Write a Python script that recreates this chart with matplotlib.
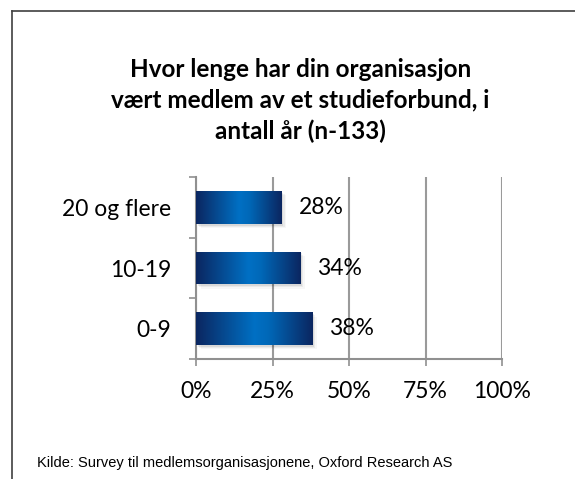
import numpy as np
import matplotlib.pyplot as plt
from matplotlib.colors import LinearSegmentedColormap
from matplotlib.lines import Line2D
from matplotlib.patches import Rectangle

# data
categories = ['0-9', '10-19', '20 og flere']
values = [38, 34, 28]
value_labels = ['38%', '34%', '28%']
x_ticks = [0, 25, 50, 75, 100]
x_tick_labels = ['0%', '25%', '50%', '75%', '100%']
title = 'Hvor lenge har din organisasjon\nvært medlem av et studieforbund, i\nantall år (n-133)'
source = 'Kilde: Survey til medlemsorganisasjonene, Oxford Research AS'

plt.rcParams['font.family'] = ['Lato', 'DejaVu Sans']

fig = plt.figure(figsize=(5.75, 4.79), dpi=100)
ax = fig.add_axes([0.341, 0.2505, 0.532, 0.38])

# gradient: dark at ends, bright blue in the middle
cmap = LinearSegmentedColormap.from_list(
    'bar', [(0, '#0b2660'), (0.5, '#0070c4'), (0.62, '#0068b8'), (1, '#0b2660')])
grad = np.linspace(0, 1, 256).reshape(1, -1)

y = np.arange(len(categories))
bars = ax.barh(y, values, height=0.54, color='#0060b0', zorder=3)

for b in bars:
    x0, y0, w, h = b.get_x(), b.get_y(), b.get_width(), b.get_height()
    # soft shadow
    for k, a in enumerate([0.08, 0.05, 0.03]):
        d = 0.5 + k * 0.5
        ax.add_patch(Rectangle((x0 + d, y0 - 0.03 - k * 0.02), w, h,
                               color='black', alpha=a, lw=0, zorder=2))
    im = ax.imshow(grad, extent=[x0, x0 + w, y0, y0 + h], cmap=cmap,
                   aspect='auto', zorder=4, interpolation='bicubic')
    im.set_clip_path(b)

for yi, v, lab in zip(y, values, value_labels):
    ax.text(v + 5.5, yi, lab, va='center', ha='left', fontsize=16.5, zorder=5)

ax.set_xlim(0, 100)
ax.set_ylim(-0.5, len(categories) - 0.5)
ax.set_xticks(x_ticks)
ax.set_xticklabels(x_tick_labels, fontsize=16.5)
ax.set_yticks(y)
ax.set_yticklabels(categories, fontsize=16.5)
ax.set_yticks(np.arange(-0.5, len(categories), 1), minor=True)
ax.tick_params(axis='y', which='major', length=0, pad=18)
ax.tick_params(axis='y', which='minor', length=5, width=1.2, color='#909090',
               direction='out')
ax.tick_params(axis='x', length=5, width=1.2, color='#909090', pad=11)

ax.grid(axis='x', color='#9a9a9a', linewidth=1.5, zorder=1)
ax.set_axisbelow(True)
for s in ['top', 'right']:
    ax.spines[s].set_visible(False)
for s in ['left', 'bottom']:
    ax.spines[s].set_color('#909090')
    ax.spines[s].set_linewidth(1.5)

fig.text(0.522, 0.791, title, ha='center', va='center', fontsize=17.5,
         fontweight='bold', linespacing=1.4)
fig.text(0.064, 0.033, source, ha='left', va='center', fontsize=10.5,
         family=['Liberation Sans', 'DejaVu Sans'])

# chart frame
fig.add_artist(Line2D([12 / 575, 12 / 575], [0, 1 - 11 / 479],
                      color='#404040', lw=1.2))
fig.add_artist(Line2D([12 / 575, 1], [1 - 11 / 479, 1 - 11 / 479],
                      color='#404040', lw=1.2))

fig.savefig('out.png', dpi=100)
